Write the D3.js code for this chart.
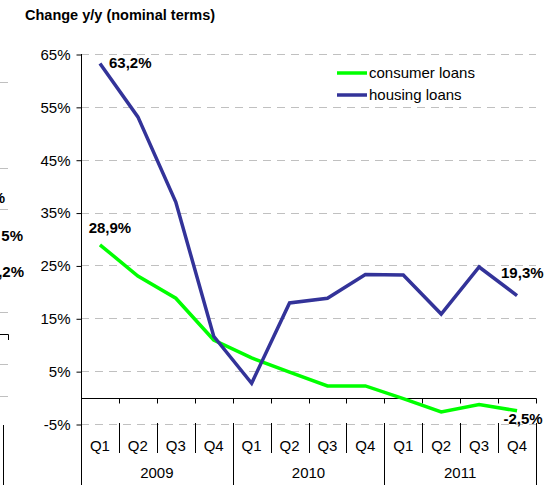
<!DOCTYPE html>
<html>
<head>
<meta charset="utf-8">
<script src="https://cdn.jsdelivr.net/npm/d3@7"></script>
<style>
  body { margin: 0; background: #fff; }
  svg { display: block; font-family: "Liberation Sans", Arial, sans-serif; }
  .grid line { stroke: #c0c0c0; stroke-dasharray: 8 6; }
</style>
</head>
<body>
<svg width="549" height="485"></svg>
<script>
// quarters and years on the category axis
let quarters = ["Q1", "Q2", "Q3", "Q4", "Q1", "Q2", "Q3", "Q4", "Q1", "Q2", "Q3", "Q4"],
    years = ["2009", "2010", "2011"],
    consumer = [28.9, 23.0, 18.8, 10.9, 7.5, 4.8, 2.2, 2.2, -0.2, -2.7, -1.3, -2.5],
    housing = [63.2, 53.1, 37.0, 11.6, 2.7, 17.9, 18.8, 23.3, 23.2, 15.8, 24.7, 19.3],
    yTicks = [-5, 5, 15, 25, 35, 45, 55, 65];

let svg = d3.select("svg"),
    plotLeft = 81, plotRight = 536, plotTop = 54, plotBottom = 485,
    font = '"Liberation Sans", Arial, sans-serif';

let x = d3.scaleBand().domain(d3.range(quarters.length)).range([plotLeft, plotRight]).padding(0),
    y = d3.scaleLinear().domain([-5, 65]).range([424, 54]);

let series = [
    {name: "consumer loans", values: consumer, color: "#00ff00"},
    {name: "housing loans", values: housing, color: "#333399"}
];

// bits of the neighbouring chart that got cropped in on the left
let frag = svg.append("g").attr("fill", "#000").style("font", "bold 15px " + font);
frag.append("text").attr("x", 5).attr("y", 198).attr("dy", "0.35em").attr("text-anchor", "end").text("%");
frag.append("text").attr("x", 23).attr("y", 236).attr("dy", "0.35em").attr("text-anchor", "end").text("5%");
frag.append("text").attr("x", 24).attr("y", 272).attr("dy", "0.35em").attr("text-anchor", "end").text(",2%");
[82, 168, 209, 312, 364, 396].forEach(function (yy) {
    svg.append("line").attr("x1", 0).attr("x2", 8).attr("y1", yy + 0.5).attr("y2", yy + 0.5)
        .attr("stroke", "#c0c0c0");
});
svg.append("path").attr("d", "M0,334.5H8.5V340").attr("fill", "none").attr("stroke", "#000");
svg.append("line").attr("x1", 3.5).attr("x2", 3.5).attr("y1", 425).attr("y2", 485).attr("stroke", "#000");

// title
svg.append("text")
    .attr("x", 25).attr("y", 15).attr("dy", "0.35em")
    .style("font", "bold 14.5px " + font)
    .text("Change y/y (nominal terms)");

// gridlines
svg.append("g")
    .attr("class", "grid")
    .selectAll("line")
    .data(yTicks)
    .enter().append("line")
    .attr("x1", plotLeft).attr("x2", plotRight)
    .attr("y1", function (d) { return Math.round(y(d)) + 0.5; })
    .attr("y2", function (d) { return Math.round(y(d)) + 0.5; });

// y axis
let yAxis = svg.append("g")
    .attr("transform", "translate(" + (plotLeft + 0.5) + ",0.5)")
    .call(d3.axisLeft(y).tickValues(yTicks).tickSize(5).tickPadding(6)
        .tickFormat(function (d) { return d + "%"; }));
yAxis.select(".domain").remove();
yAxis.selectAll("text").style("font", "15px " + font).attr("fill", "#000");
yAxis.selectAll(".tick line").attr("stroke", "#000");
svg.append("line")
    .attr("x1", plotLeft + 0.5).attr("x2", plotLeft + 0.5)
    .attr("y1", plotTop).attr("y2", plotBottom)
    .attr("stroke", "#000");

// category axis at 0%
let y0 = Math.round(y(0)) + 0.5;
svg.append("line")
    .attr("x1", plotLeft).attr("x2", plotRight + 0.5)
    .attr("y1", y0).attr("y2", y0)
    .attr("stroke", "#000");
let bounds = d3.range(1, quarters.length + 1).map(function (i) {
    return i < quarters.length ? x(i) : plotRight;
});
svg.append("g").selectAll("line")
    .data(bounds)
    .enter().append("line")
    .attr("x1", function (d) { return Math.round(d) + 0.5; })
    .attr("x2", function (d) { return Math.round(d) + 0.5; })
    .attr("y1", y0).attr("y2", y0 + 5)
    .attr("stroke", "#000");

// separators under the axis: short between quarters, long between years
let sepTop = Math.round(y(-5)) - 1;
svg.append("g").selectAll("line")
    .data(bounds)
    .enter().append("line")
    .attr("x1", function (d) { return Math.round(d) + 0.5; })
    .attr("x2", function (d) { return Math.round(d) + 0.5; })
    .attr("y1", sepTop)
    .attr("y2", function (d, i) { return (i + 1) % 4 === 0 ? plotBottom : 453; })
    .attr("stroke", "#000");

svg.append("g").selectAll("text")
    .data(quarters)
    .enter().append("text")
    .attr("x", function (d, i) { return x(i) + x.bandwidth() / 2; })
    .attr("y", 446).attr("dy", "0.35em")
    .attr("text-anchor", "middle")
    .style("font", "15px " + font)
    .text(function (d) { return d; });

svg.append("g").selectAll("text")
    .data(years)
    .enter().append("text")
    .attr("x", function (d, i) { return x(i * 4) + x.bandwidth() * 2; })
    .attr("y", 473).attr("dy", "0.35em")
    .attr("text-anchor", "middle")
    .style("font", "15px " + font)
    .text(function (d) { return d; });

// lines
let line = d3.line()
    .x(function (d, i) { return x(i) + x.bandwidth() / 2; })
    .y(function (d) { return y(d); });

svg.append("g").selectAll("path")
    .data(series)
    .enter().append("path")
    .attr("d", function (d) { return line(d.values); })
    .attr("fill", "none")
    .attr("stroke", function (d) { return d.color; })
    .attr("stroke-width", 3.5)
    .attr("stroke-linejoin", "miter");

// end labels
function fmt(v) { return (v + "").replace(".", ",") + "%"; }
let last = quarters.length - 1;
let endLabels = [
    {v: housing[0], i: 0, dx: 9, dy: -1, anchor: "start"},
    {v: consumer[0], i: 0, dx: 10, dy: -17, anchor: "middle"},
    {v: housing[last], i: last, dx: -16, dy: -23, anchor: "start"},
    {v: consumer[last], i: last, dx: 6, dy: 8, anchor: "middle"}
];
svg.append("g").selectAll("text")
    .data(endLabels)
    .enter().append("text")
    .attr("x", function (d) { return x(d.i) + x.bandwidth() / 2 + d.dx; })
    .attr("y", function (d) { return y(d.v) + d.dy; })
    .attr("dy", "0.35em")
    .attr("text-anchor", function (d) { return d.anchor; })
    .style("font", "bold 15px " + font)
    .text(function (d) { return fmt(d.v); });

// legend
let legend = svg.append("g").selectAll("g")
    .data(series)
    .enter().append("g")
    .attr("transform", function (d, i) { return "translate(337," + (73 + i * 22) + ")"; });
legend.append("line")
    .attr("x1", 0).attr("x2", 30)
    .attr("stroke", function (d) { return d.color; })
    .attr("stroke-width", 3.5);
legend.append("text")
    .attr("x", 32).attr("dy", "0.35em")
    .style("font", "15px " + font)
    .text(function (d) { return d.name; });
</script>
</body>
</html>
